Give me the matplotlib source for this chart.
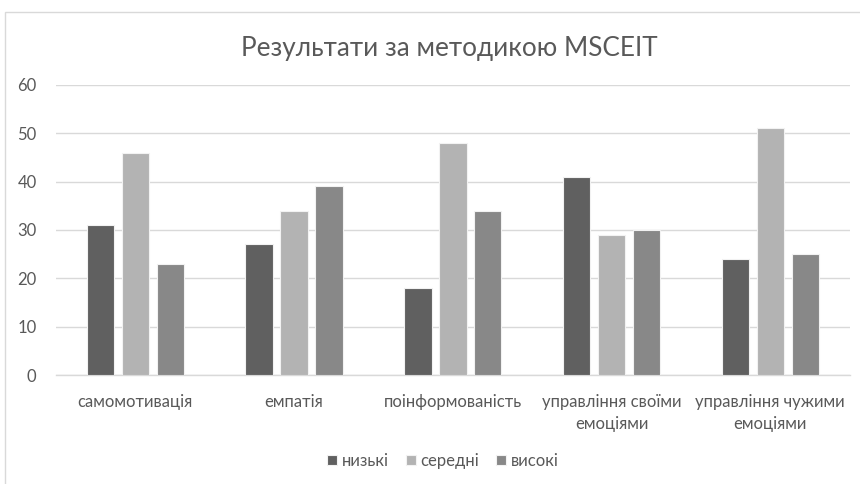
import numpy as np
import matplotlib
matplotlib.use("Agg")
import matplotlib.pyplot as plt
from matplotlib.patches import Rectangle

# дані
categories = ["самомотивація", "емпатія", "поінформованість",
              "управління своїми\nемоціями", "управління чужими\nемоціями"]
series_names = ["низькі", "середні", "високі"]
low = [31, 27, 18, 41, 24]
mid = [46, 34, 48, 29, 51]
high = [23, 39, 34, 30, 25]
colors = ["#606060", "#b3b3b3", "#888888"]

plt.rcParams['font.family'] = ['Lato', 'DejaVu Sans']
txt = "#595959"

fig = plt.figure(figsize=(8.6, 4.84), dpi=100)
ax = fig.add_axes([0.0651, 0.2252, 0.9229, 0.5992])

x = np.arange(len(categories))
w = 0.173
step = 0.22
for i, (vals, name, c) in enumerate(zip([low, mid, high], series_names, colors)):
    ax.bar(x + (i - 1) * step, vals, w, color=c, label=name,
           edgecolor="#f2f2f2", linewidth=0.8, zorder=3)

ax.set_xlim(-0.5, len(categories) - 0.5)
ax.set_ylim(0, 60)
ax.set_yticks(range(0, 61, 10))
ax.set_xticks(x)
ax.set_xticklabels(categories, fontsize=12, color=txt, linespacing=1.45)
ax.tick_params(axis='y', labelsize=12, colors=txt, length=0, pad=14)
ax.tick_params(axis='x', length=0, pad=14)
ax.grid(axis='y', color="#d9d9d9", linewidth=1, zorder=0)
for s in ["top", "right", "left"]:
    ax.spines[s].set_visible(False)
ax.spines["bottom"].set_color("#d9d9d9")
ax.spines["bottom"].set_linewidth(1)

fig.text(0.523, 0.90, "Результати за методикою MSCEIT", ha="center", va="center",
         fontsize=18.8, color=txt)

leg = fig.legend(loc="center", bbox_to_anchor=(0.515, 0.048), ncol=3, frameon=False,
                 fontsize=12, handlelength=0.6, handleheight=0.6,
                 handletextpad=0.3, columnspacing=1.0, labelcolor=txt)

fig.patches.append(Rectangle((5 / 860, -0.1), 1.2, 1 - 12 / 484 + 0.1,
                             transform=fig.transFigure, fill=False,
                             edgecolor="#d9d9d9", linewidth=1))

fig.savefig("out.png", dpi=100)
